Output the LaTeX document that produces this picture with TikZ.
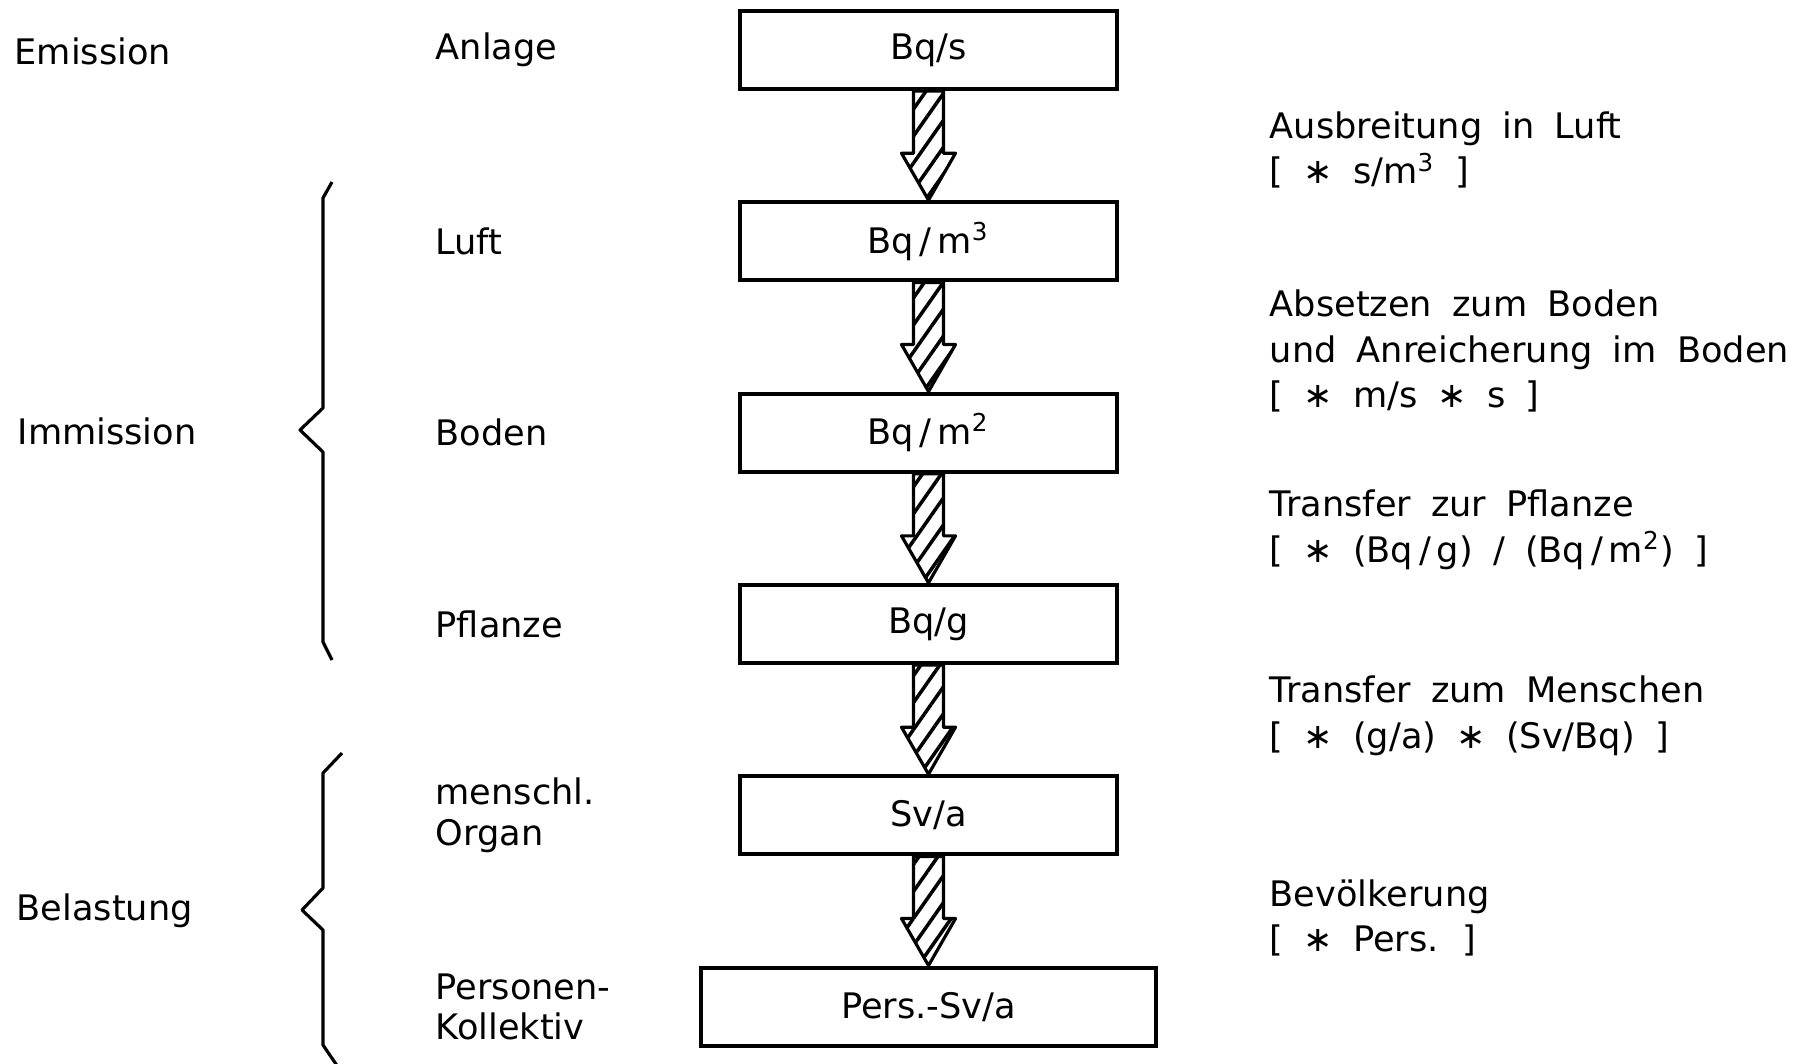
\documentclass[tikz,border=0pt]{standalone}
\usepackage{fontspec}
\setmainfont[WordSpace=1.8]{DejaVu Sans}
\usetikzlibrary{positioning, calc, patterns.meta}

\begin{document}
\begin{tikzpicture}[x=0.01cm, y=-0.01cm,
    every node/.style={font=\fontsize{10}{13}\selectfont},
    unitbox/.style={draw, line width=1.2pt, minimum width=3.77cm, minimum height=0.78cm, inner sep=0pt},
    lbl/.style={anchor=west, align=left, inner sep=0pt},
    hatcharrow/.style={draw, line width=0.9pt, line join=round,
      pattern={Lines[angle=55, distance=4.4pt, line width=1pt]}},
    brace/.style={line width=0.9pt, line join=round}]
  \useasboundingbox (0,0) rectangle (1809,1063);

  \node[unitbox] (anlage) at (928.5,50) {Bq/s};
  \node[unitbox, below=1.09cm of anlage] (luft) {Bq\,/\,m\textsuperscript{3}};
  \node[unitbox, below=1.09cm of luft] (boden) {Bq\,/\,m\textsuperscript{2}};
  \node[unitbox, below=1.09cm of boden] (pflanze) {Bq/g};
  \node[unitbox, below=1.09cm of pflanze] (organ) {Sv/a};
  \node[unitbox, minimum width=4.54cm, below=1.09cm of organ] (kollektiv) {Pers.-Sv/a};

  \foreach \a/\b in {anlage/luft, luft/boden, boden/pflanze, pflanze/organ, organ/kollektiv}
    \draw[hatcharrow] ($(\a.south)+(-15,0)$) -- ($(\b.north)+(-15,-47)$) -- ($(\b.north)+(-27,-47)$)
      -- (\b.north) -- ($(\b.north)+(27,-47)$) -- ($(\b.north)+(15,-47)$) -- ($(\a.south)+(15,0)$) -- cycle;

  \coordinate (midcol) at (435,3);
  \node[lbl] (tanlage) at (anlage -| midcol) {Anlage};
  \node[lbl] (tluft) at (luft -| midcol) {Luft};
  \node[lbl] (tboden) at (boden -| midcol) {Boden};
  \node[lbl] (tpflanze) at (pflanze -| midcol) {Pflanze};
  \node[lbl, font=\fontsize{10}{11.5}\selectfont] (torgan) at (organ -| midcol) {menschl.\\Organ};
  \node[lbl, font=\fontsize{10}{11.5}\selectfont] (tkollektiv) at (kollektiv -| midcol) {Personen-\\Kollektiv};

  \node[lbl] (emission) at (14,51) {Emission};
  \node[lbl] (immission) at (17,431) {Immission};
  \node[lbl] (belastung) at (16,911) {Belastung};

  \draw[brace] (332,182) -- (323,198) -- (323,408) -- (300,430) -- (323,452) -- (323,642) -- (332,660);
  \draw[brace] (342,753) -- (323,773) -- (323,888) -- (302,910) -- (323,930) -- (323,1045) -- (338,1067);

  \node[lbl] (ausbreitung) at (1269,150) {Ausbreitung in Luft\\{}[ ∗ s/m\textsuperscript{3} ]};
  \node[lbl] (absetzen) at (1269,351) {Absetzen zum Boden\\und Anreicherung im Boden\\{}[ ∗ m/s ∗ s ]};
  \node[lbl] (transpfl) at (1269,530) {Transfer zur Pflanze\\{}[ ∗ (Bq\,/\,g) / (Bq\,/\,m\textsuperscript{2}) ]};
  \node[lbl] (transmen) at (1269,716) {Transfer zum Menschen\\{}[ ∗ (g/a) ∗ (Sv/Bq) ]};
  \node[lbl] (bevoelk) at (1269,918) {Bevölkerung\\{}[ ∗ Pers. ]};
\end{tikzpicture}
\end{document}
